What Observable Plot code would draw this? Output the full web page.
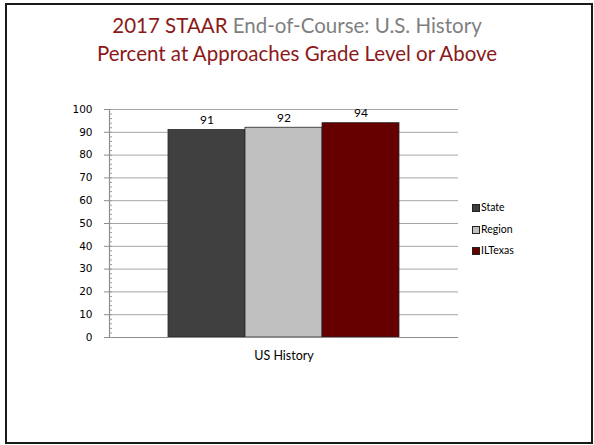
<!DOCTYPE html>
<html>
<head>
<meta charset="utf-8">
<script src="https://cdn.jsdelivr.net/npm/d3@7"></script>
<script src="https://cdn.jsdelivr.net/npm/@observablehq/plot@0.6"></script>
<style>
  html, body { margin: 0; padding: 0; background: #fff; }
  #wrap { position: relative; width: 594px; height: 445px; overflow: hidden; background: #fff; }
  #border { position: absolute; left: 5px; top: 3px; width: 588px; height: 441px; box-sizing: border-box; border: 2px solid #1a1a1a; }
  #title { position: absolute; left: 0; top: 0; width: 594px; text-align: center; font-family: Lato, "Open Sans", sans-serif; font-size: 20.5px; line-height: 28px; }
  #title .l1 { position: absolute; left: 0; width: 100%; top: 11px; }
  #title .l2 { position: absolute; left: 0; width: 100%; top: 39px; color: #8b1a1a; }
  #chart { position: absolute; left: 0; top: 80px; }
  #legend { position: absolute; left: 472px; top: 200px; font-family: Lato, sans-serif; font-size: 10.5px; color: #000; }
  #legend .row { position: absolute; left: 0; height: 14px; line-height: 14px; white-space: nowrap; }
  #legend .sw { position: absolute; left: 0; top: 4px; width: 6px; height: 6px; border: 0.5px solid #222; }
  #legend .lab { position: absolute; left: 9px; top: 0; }
</style>
</head>
<body>
<div id="wrap">
  <div id="border"></div>
  <div id="title">
    <div class="l1"><span style="color:#8b1a1a">2017 STAAR</span> <span style="color:#7f7f7f">End-of-Course: U.S. History</span></div>
    <div class="l2">Percent at Approaches Grade Level or Above</div>
  </div>
  <div id="chart"></div>
  <div id="legend"></div>
</div>
<script>
const course = "US History";
const groups = ["State", "Region", "ILTexas"];
const values = [91, 92, 94];
const colors = ["#404040", "#c0c0c0", "#660000"];
const yTicks = [0, 10, 20, 30, 40, 50, 60, 70, 80, 90, 100];
const yMinorTicks = d3.range(0, 101, 2);

const data = groups.map((g, i) => ({course, group: g, value: values[i]}));

const chart = Plot.plot({
  width: 594,
  height: 300,
  marginTop: 29,
  marginBottom: 43,
  marginLeft: 109,
  marginRight: 136,
  style: {background: "transparent", overflow: "visible"},
  fx: {domain: [course], padding: 0},
  x: {domain: groups, paddingInner: 0, paddingOuter: 0.75},
  y: {domain: [0, 100]},
  color: {domain: groups, range: colors},
  marks: [
    Plot.ruleY(yTicks, {stroke: "#a6a6a6", strokeWidth: 1}),
    Plot.barY(data, {fx: "course", x: "group", y: "value", fill: "group", stroke: "#262626", strokeWidth: 0.8}),
    Plot.ruleY([0], {stroke: "#8c8c8c", strokeWidth: 1.2}),
    Plot.frame({anchor: "left", stroke: "#8c8c8c", strokeWidth: 1.2}),
    Plot.axisY({ticks: yMinorTicks, tickSize: -3, tickFormat: () => "", stroke: "#999", label: null}),
    Plot.axisY({ticks: yTicks, tickSize: 5, tickPadding: 12, stroke: "#8c8c8c", color: "#000", fill: "#000", fontSize: 10.5, fontFamily: "DejaVu Sans", label: null}),
    Plot.axisX({ticks: [], label: null}),
    Plot.axisFx({anchor: "bottom", tickSize: 0, tickPadding: 14, fontSize: 12.5, fontFamily: "Lato", fill: "#000", label: null}),
    Plot.text(data, {fx: "course", x: "group", y: "value", text: d => String(d.value), dy: -6, lineAnchor: "bottom", fontSize: 12, fontFamily: "Lato", fill: "#000"})
  ]
});
document.getElementById("chart").appendChild(chart);

const legend = document.getElementById("legend");
const rowTops = [0, 21.5, 43];
groups.forEach((g, i) => {
  const row = document.createElement("div");
  row.className = "row";
  row.style.top = rowTops[i] + "px";
  const sw = document.createElement("span");
  sw.className = "sw";
  sw.style.background = colors[i];
  const lab = document.createElement("span");
  lab.className = "lab";
  lab.textContent = g;
  row.appendChild(sw);
  row.appendChild(lab);
  legend.appendChild(row);
});
</script>
</body>
</html>
